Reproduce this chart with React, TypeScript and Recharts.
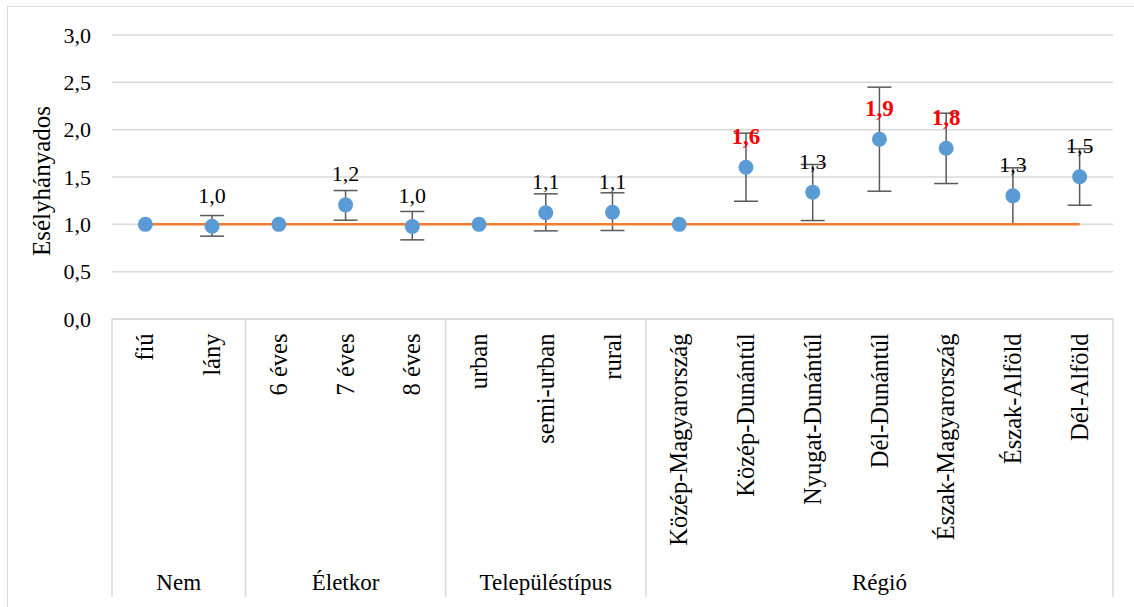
import React from 'react';
import { ComposedChart, Line, XAxis, YAxis, CartesianGrid, ErrorBar, LabelList } from 'recharts';

const categories = ['fiú', 'lány', '6 éves', '7 éves', '8 éves', 'urban', 'semi-urban', 'rural', 'Közép-Magyarország', 'Közép-Dunántúl', 'Nyugat-Dunántúl', 'Dél-Dunántúl', 'Észak-Magyarország', 'Észak-Alföld', 'Dél-Alföld'];
const groupNames = ['Nem', 'Életkor', 'Településtípus', 'Régió'];
const groupSizes = [2, 3, 3, 7];
const oddsRatios = [1.0, 0.98, 1.0, 1.206, 0.977, 1.0, 1.122, 1.128, 1.0, 1.603, 1.34, 1.899, 1.804, 1.301, 1.502];
const ciLower: (number | null)[] = [null, 0.875, null, 1.044, 0.836, null, 0.931, 0.935, null, 1.244, 1.04, 1.35, 1.431, 1.0, 1.202];
const ciUpper: (number | null)[] = [null, 1.093, null, 1.357, 1.136, null, 1.322, 1.333, null, 1.963, 1.632, 2.449, 2.174, 1.597, 1.798];
const referenceLine = [1, 1, 1, 1, 1, 1, 1, 1, 1, 1, 1, 1, 1, 1, 1];
const valueLabels = ['', '1,0', '', '1,2', '1,0', '', '1,1', '1,1', '', '1,6', '1,3', '1,9', '1,8', '1,3', '1,5'];
const significant = [false, false, false, false, false, false, false, false, false, true, false, true, true, false, false];
const yTicks = [0, 0.5, 1, 1.5, 2, 2.5, 3];
const yAxisTitle = 'Esélyhányados';

const W = 1134;
const H = 607;
const MARGIN = { top: 35, right: 21, bottom: 0, left: 0 };
const Y_AXIS_W = 112;
const X_AXIS_H = 288;
const BAND = (W - MARGIN.left - MARGIN.right - Y_AXIS_W) / categories.length;
const FONT = 'Liberation Serif, Times New Roman, serif';
const GRID = '#D9D9D9';

const groupOfIndex: number[] = [];
groupSizes.forEach((s, g) => {
  for (let k = 0; k < s; k++) groupOfIndex.push(g);
});

const data = categories.map((cat, i) => ({
  cat,
  or: oddsRatios[i],
  ref: referenceLine[i],
  err: ciLower[i] != null && ciUpper[i] != null ? [oddsRatios[i] - (ciLower[i] as number), (ciUpper[i] as number) - oddsRatios[i]] : null,
}));

const CategoryTick = (props: any) => {
  const { x, y, payload, index } = props;
  const half = payload && typeof payload.offset === 'number' && payload.offset > 0 ? payload.offset : BAND / 2;
  const i = typeof index === 'number' ? index : categories.indexOf(payload.value);
  const g = groupOfIndex[i];
  const firstInGroup = i === 0 || groupOfIndex[i - 1] !== g;
  const lastOverall = i === categories.length - 1;
  const lineBottom = y + 278;
  const els: React.ReactNode[] = [];
  els.push(
    <text
      key="lbl"
      x={x}
      y={y + 14.5}
      dy="0.33em"
      transform={`rotate(-90, ${x}, ${y + 14.5})`}
      textAnchor="end"
      fontFamily={FONT}
      fontSize={24.5}
      fill="#000"
    >
      {payload.value}
    </text>
  );
  if (firstInGroup) {
    const left = x - half;
    els.push(<line key="sep" x1={left} y1={y} x2={left} y2={lineBottom} stroke={GRID} strokeWidth={1.5} />);
    const center = left + groupSizes[g] * half;
    els.push(
      <text key="grp" x={center} y={y + 271} textAnchor="middle" fontFamily={FONT} fontSize={23} fill="#000">
        {groupNames[g]}
      </text>
    );
  }
  if (lastOverall) {
    const right = x + half;
    els.push(<line key="sepR" x1={right} y1={y} x2={right} y2={lineBottom} stroke={GRID} strokeWidth={1.5} />);
  }
  return <g>{els}</g>;
};

const ValueLabel = (props: any) => {
  const { x, y, index } = props;
  const txt = valueLabels[index];
  if (!txt) return null;
  const sig = significant[index];
  return (
    <text
      x={x}
      y={y - 23.5}
      textAnchor="middle"
      fontFamily={FONT}
      fontSize={sig ? 23 : 22}
      fontWeight={sig ? 'bold' : 'normal'}
      fill={sig ? '#FF0000' : '#000'}
    >
      {txt}
    </text>
  );
};

export default function App() {
  return (
    <div style={{ position: 'absolute', left: 0, top: 0, width: W, height: H, overflow: 'hidden', background: '#fff', fontFamily: FONT }}>
      <div
        style={{
          position: 'absolute',
          left: 7,
          top: 6,
          width: W + 20,
          height: H + 20,
          border: `1.5px solid ${GRID}`,
          boxSizing: 'border-box',
        }}
      />
      <div style={{ position: 'absolute', left: 0, top: 0 }}>
        <ComposedChart width={W} height={H} data={data} margin={MARGIN}>
          <CartesianGrid vertical={false} stroke={GRID} strokeWidth={1.5} />
          <XAxis
            dataKey="cat"
            type="category"
            scale="band"
            interval={0}
            height={X_AXIS_H}
            tickLine={false}
            tickSize={0}
            tickMargin={0}
            axisLine={{ stroke: GRID, strokeWidth: 1.5 }}
            tick={<CategoryTick />}
          />
          <YAxis
            width={Y_AXIS_W}
            domain={[0, 3]}
            ticks={yTicks}
            interval={0}
            axisLine={false}
            tickLine={false}
            tickSize={6}
            tickMargin={15}
            tickFormatter={(v: number) => v.toFixed(1).replace('.', ',')}
            tick={{ fontFamily: FONT, fontSize: 22, fill: '#000' }}
          />
          <Line
            dataKey="or"
            stroke="none"
            dot={false}
            activeDot={false}
            isAnimationActive={false}
            legendType="none"
          >
            <ErrorBar dataKey="err" width={12} stroke="#595959" strokeWidth={1.5} direction="y" />
          </Line>
          <Line
            dataKey="ref"
            stroke="#ED7D31"
            strokeWidth={2.5}
            dot={false}
            activeDot={false}
            isAnimationActive={false}
          />
          <Line
            dataKey="or"
            stroke="none"
            dot={{ r: 7.5, fill: '#5B9BD5', stroke: 'none' }}
            activeDot={false}
            isAnimationActive={false}
          >
            <LabelList dataKey="or" content={<ValueLabel />} />
          </Line>
        </ComposedChart>
      </div>
      <svg width={W} height={H} style={{ position: 'absolute', left: 0, top: 0, pointerEvents: 'none' }}>
        <text
          x={50}
          y={181}
          transform="rotate(-90, 50, 181)"
          textAnchor="middle"
          fontFamily={FONT}
          fontSize={25}
          fill="#000"
        >
          {yAxisTitle}
        </text>
      </svg>
    </div>
  );
}
